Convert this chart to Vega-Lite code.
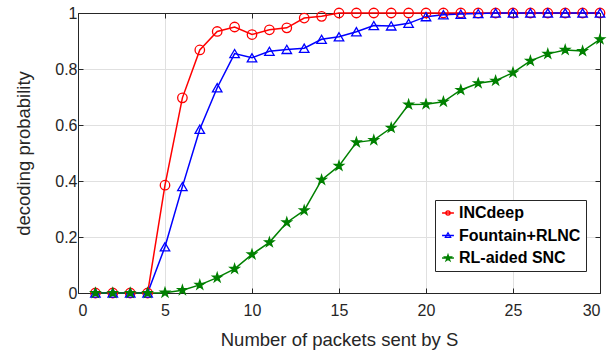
{
  "$schema": "https://vega.github.io/schema/vega-lite/v6.json",
  "width": 522,
  "height": 280,
  "autosize": "none",
  "padding": {"left": 78, "top": 13, "right": 9, "bottom": 60},
  "background": "white",
  "config": {
    "view": {"stroke": "#262626", "strokeWidth": 1},
    "axis": {
      "labelFont": "Liberation Sans",
      "labelFontSize": 16,
      "labelColor": "#262626",
      "titleFont": "Liberation Sans",
      "titleFontSize": 18.5,
      "titleFontWeight": "normal",
      "titleColor": "#262626",
      "domainColor": "#262626",
      "domainWidth": 1,
      "tickColor": "#262626",
      "tickSize": -5,
      "gridColor": "#e0e0e0",
      "gridWidth": 1
    }
  },
  "data": {
    "values": [
      {"n": 1, "series": "INCdeep", "p": 0},
      {"n": 2, "series": "INCdeep", "p": 0},
      {"n": 3, "series": "INCdeep", "p": 0},
      {"n": 4, "series": "INCdeep", "p": 0},
      {"n": 5, "series": "INCdeep", "p": 0.385},
      {"n": 6, "series": "INCdeep", "p": 0.697},
      {"n": 7, "series": "INCdeep", "p": 0.868},
      {"n": 8, "series": "INCdeep", "p": 0.934},
      {"n": 9, "series": "INCdeep", "p": 0.95},
      {"n": 10, "series": "INCdeep", "p": 0.923},
      {"n": 11, "series": "INCdeep", "p": 0.94},
      {"n": 12, "series": "INCdeep", "p": 0.947},
      {"n": 13, "series": "INCdeep", "p": 0.982},
      {"n": 14, "series": "INCdeep", "p": 0.988},
      {"n": 15, "series": "INCdeep", "p": 1},
      {"n": 16, "series": "INCdeep", "p": 1},
      {"n": 17, "series": "INCdeep", "p": 1},
      {"n": 18, "series": "INCdeep", "p": 1},
      {"n": 19, "series": "INCdeep", "p": 1},
      {"n": 20, "series": "INCdeep", "p": 1},
      {"n": 21, "series": "INCdeep", "p": 1},
      {"n": 22, "series": "INCdeep", "p": 1},
      {"n": 23, "series": "INCdeep", "p": 1},
      {"n": 24, "series": "INCdeep", "p": 1},
      {"n": 25, "series": "INCdeep", "p": 1},
      {"n": 26, "series": "INCdeep", "p": 1},
      {"n": 27, "series": "INCdeep", "p": 1},
      {"n": 28, "series": "INCdeep", "p": 1},
      {"n": 29, "series": "INCdeep", "p": 1},
      {"n": 30, "series": "INCdeep", "p": 1},
      {"n": 1, "series": "Fountain+RLNC", "p": 0},
      {"n": 2, "series": "Fountain+RLNC", "p": 0},
      {"n": 3, "series": "Fountain+RLNC", "p": 0},
      {"n": 4, "series": "Fountain+RLNC", "p": 0},
      {"n": 5, "series": "Fountain+RLNC", "p": 0.165},
      {"n": 6, "series": "Fountain+RLNC", "p": 0.38},
      {"n": 7, "series": "Fountain+RLNC", "p": 0.585},
      {"n": 8, "series": "Fountain+RLNC", "p": 0.733},
      {"n": 9, "series": "Fountain+RLNC", "p": 0.855},
      {"n": 10, "series": "Fountain+RLNC", "p": 0.84},
      {"n": 11, "series": "Fountain+RLNC", "p": 0.863},
      {"n": 12, "series": "Fountain+RLNC", "p": 0.87},
      {"n": 13, "series": "Fountain+RLNC", "p": 0.874},
      {"n": 14, "series": "Fountain+RLNC", "p": 0.906},
      {"n": 15, "series": "Fountain+RLNC", "p": 0.915},
      {"n": 16, "series": "Fountain+RLNC", "p": 0.933},
      {"n": 17, "series": "Fountain+RLNC", "p": 0.955},
      {"n": 18, "series": "Fountain+RLNC", "p": 0.954},
      {"n": 19, "series": "Fountain+RLNC", "p": 0.963},
      {"n": 20, "series": "Fountain+RLNC", "p": 0.987},
      {"n": 21, "series": "Fountain+RLNC", "p": 0.994},
      {"n": 22, "series": "Fountain+RLNC", "p": 0.996},
      {"n": 23, "series": "Fountain+RLNC", "p": 0.998},
      {"n": 24, "series": "Fountain+RLNC", "p": 1},
      {"n": 25, "series": "Fountain+RLNC", "p": 1},
      {"n": 26, "series": "Fountain+RLNC", "p": 1},
      {"n": 27, "series": "Fountain+RLNC", "p": 1},
      {"n": 28, "series": "Fountain+RLNC", "p": 1},
      {"n": 29, "series": "Fountain+RLNC", "p": 1},
      {"n": 30, "series": "Fountain+RLNC", "p": 1},
      {"n": 1, "series": "RL-aided SNC", "p": 0},
      {"n": 2, "series": "RL-aided SNC", "p": 0},
      {"n": 3, "series": "RL-aided SNC", "p": 0},
      {"n": 4, "series": "RL-aided SNC", "p": 0},
      {"n": 5, "series": "RL-aided SNC", "p": 0.001},
      {"n": 6, "series": "RL-aided SNC", "p": 0.01},
      {"n": 7, "series": "RL-aided SNC", "p": 0.029},
      {"n": 8, "series": "RL-aided SNC", "p": 0.055},
      {"n": 9, "series": "RL-aided SNC", "p": 0.086},
      {"n": 10, "series": "RL-aided SNC", "p": 0.138},
      {"n": 11, "series": "RL-aided SNC", "p": 0.181},
      {"n": 12, "series": "RL-aided SNC", "p": 0.252},
      {"n": 13, "series": "RL-aided SNC", "p": 0.295},
      {"n": 14, "series": "RL-aided SNC", "p": 0.404},
      {"n": 15, "series": "RL-aided SNC", "p": 0.454},
      {"n": 16, "series": "RL-aided SNC", "p": 0.538},
      {"n": 17, "series": "RL-aided SNC", "p": 0.546},
      {"n": 18, "series": "RL-aided SNC", "p": 0.59},
      {"n": 19, "series": "RL-aided SNC", "p": 0.673},
      {"n": 20, "series": "RL-aided SNC", "p": 0.674},
      {"n": 21, "series": "RL-aided SNC", "p": 0.683},
      {"n": 22, "series": "RL-aided SNC", "p": 0.725},
      {"n": 23, "series": "RL-aided SNC", "p": 0.749},
      {"n": 24, "series": "RL-aided SNC", "p": 0.758},
      {"n": 25, "series": "RL-aided SNC", "p": 0.787},
      {"n": 26, "series": "RL-aided SNC", "p": 0.829},
      {"n": 27, "series": "RL-aided SNC", "p": 0.854},
      {"n": 28, "series": "RL-aided SNC", "p": 0.868},
      {"n": 29, "series": "RL-aided SNC", "p": 0.864},
      {"n": 30, "series": "RL-aided SNC", "p": 0.906}
    ]
  },
  "layer": [
    {
      "mark": {"type": "line", "strokeWidth": 1.5},
      "encoding": {
        "x": {
          "field": "n", "type": "quantitative",
          "scale": {"domain": [0, 30], "nice": false},
          "axis": {"values": [0, 5, 10, 15, 20, 25, 30], "title": "Number of packets sent by S", "labelPadding": 14, "titlePadding": 12}
        },
        "y": {
          "field": "p", "type": "quantitative",
          "scale": {"domain": [0, 1], "nice": false},
          "axis": {"values": [0, 0.2, 0.4, 0.6, 0.8, 1], "format": ".1~f", "title": "decoding probability", "labelPadding": 6, "titlePadding": 21}
        },
        "color": {
          "field": "series", "type": "nominal",
          "scale": {"domain": ["INCdeep", "Fountain+RLNC", "RL-aided SNC"], "range": ["#ff0000", "#0000ff", "#008000"]},
          "legend": {
            "orient": "none",
            "legendX": 357,
            "legendY": 187,
            "title": null,
            "direction": "vertical",
            "labelFont": "Liberation Sans",
            "labelFontSize": 16,
            "labelFontWeight": "bold",
            "labelColor": "#000000",
            "strokeColor": "#262626",
            "fillColor": "white",
            "padding": 5,
            "rowPadding": 6.5,
            "symbolSize": 64,
            "symbolStrokeWidth": 1.3,
            "symbolOffset": 0,
            "labelOffset": 3,
            "encode": {
              "symbols": {
                "update": {
                  "shape": {"signal": "datum.value === 'INCdeep' ? 'M-1.48,0L1.48,0M0.53,0A0.53,0.53 0 1,0 -0.53,0A0.53,0.53 0 1,0 0.53,0' : datum.value === 'Fountain+RLNC' ? 'M-1.48,0L1.48,0M0,-0.7L0.65,0.45L-0.65,0.45Z' : 'M-1.48,0L1.48,0M0,-0.8L0.18,-0.247L0.761,-0.247L0.291,0.0945L0.47,0.647L0,0.306L-0.47,0.647L-0.291,0.0945L-0.761,-0.247L-0.18,-0.247Z'"},
                  "fill": {"signal": "datum.value === 'RL-aided SNC' ? '#008000' : 'transparent'"}
                }
              }
            }
          }
        }
      }
    },
    {
      "mark": {"type": "point", "strokeWidth": 1.3, "opacity": 1},
      "encoding": {
        "x": {
          "field": "n", "type": "quantitative",
          "axis": {"orient": "top", "values": [0, 5, 10, 15, 20, 25, 30], "labels": false, "grid": false, "title": null}
        },
        "y": {
          "field": "p", "type": "quantitative",
          "axis": {"orient": "right", "values": [0, 0.2, 0.4, 0.6, 0.8, 1], "labels": false, "grid": false, "title": null}
        },
        "shape": {
          "field": "series", "type": "nominal",
          "scale": {"range": ["triangle-up", "circle", "M0,-1L0.2245,-0.309L0.951,-0.309L0.363,0.118L0.588,0.809L0,0.382L-0.588,0.809L-0.363,0.118L-0.951,-0.309L-0.2245,-0.309Z"]},
          "legend": null
        },
        "fill": {
          "field": "series", "type": "nominal",
          "scale": {"range": ["transparent", "transparent", "#008000"]},
          "legend": null
        },
        "stroke": {
          "field": "series", "type": "nominal",
          "scale": {"range": ["#0000ff", "#ff0000", "#008000"]},
          "legend": null
        },
        "size": {"value": 90}
      }
    }
  ],
  "resolve": {"axis": {"x": "independent", "y": "independent"}}
}
